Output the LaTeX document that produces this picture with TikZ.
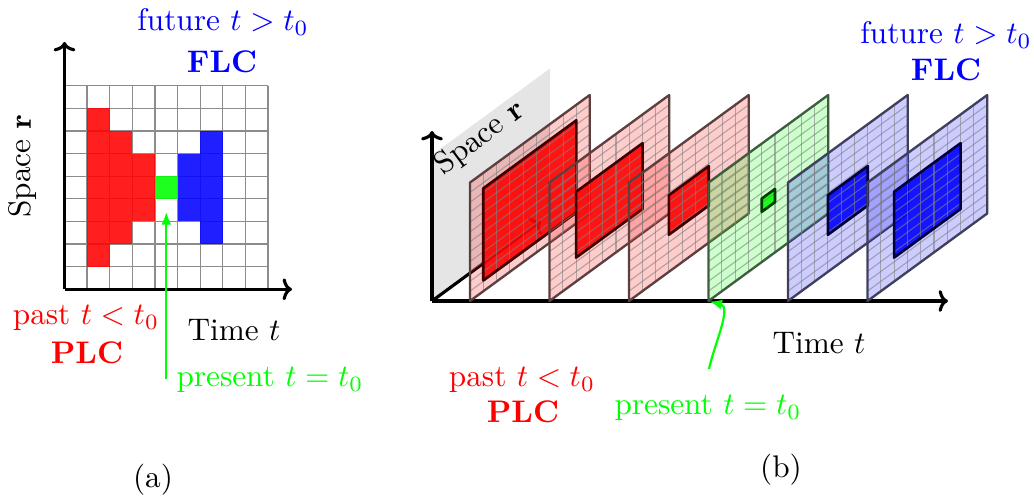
\documentclass[tikz,border=0pt]{standalone}
\usetikzlibrary{arrows.meta}
\begin{document}
\begin{tikzpicture}[x=0.32pt,y=-0.32pt,
  axis/.style={line width=1pt,-{To[length=3pt,width=7pt]}},
  lbl/.style={inner sep=0pt,font=\normalsize},
  gridline/.style={black!45,line width=0.4pt},
  pgrid/.style={black!50,line width=0.35pt,opacity=0.6},
  presarrow/.style={green,line width=0.7pt,-{Latex[length=4pt,width=3.2pt]}}]
\useasboundingbox (0,0) rectangle (1034,496);
% ================= panel (a) =================
\def\cs{22.62}
\foreach \i in {1,...,9}{\draw[gridline] ({64.5+\i*\cs},289.3) -- ({64.5+\i*\cs},85.7);}
\foreach \j in {1,...,9}{\draw[gridline] (64.5,{289.3-\j*\cs}) -- (268.1,{289.3-\j*\cs});}
\foreach \cc/\ylo/\yhi in {1/1/7,2/2/6,3/3/5}{
  \fill[red,fill opacity=0.88] ({64.5+\cc*\cs},{289.3-\ylo*\cs}) rectangle ({64.5+(\cc+1)*\cs},{289.3-(\yhi+1)*\cs});}
\foreach \cc/\ylo/\yhi in {5/3/5,6/2/6}{
  \fill[blue,fill opacity=0.88] ({64.5+\cc*\cs},{289.3-\ylo*\cs}) rectangle ({64.5+(\cc+1)*\cs},{289.3-(\yhi+1)*\cs});}
\fill[green,fill opacity=0.88] ({64.5+4*\cs},{289.3-4*\cs}) rectangle ({64.5+5*\cs},{289.3-5*\cs});
\coordinate (aO) at (64.5,289.3);
\coordinate (aY) at (64.5,42);
\coordinate (aX) at (292,289.3);
\draw[axis] (aO) -- (aY);
\draw[axis] (aO) -- (aX);
\coordinate (aPs) at (166.3,379);
\coordinate (aPe) at (166.3,212);
\draw[presarrow] (aPs) -- (aPe);
\node[lbl,blue] (afut) at (223,22) {future $t>t_0$};
\node[lbl,blue] (aflc) at (222,62) {\textbf{FLC}};
\node[lbl,rotate=90] (aspace) at (23,166) {Space $\mathbf{r}$};
\node[lbl,red] (apast) at (86,318) {past $t<t_0$};
\node[lbl,red] (aplc) at (87,353) {\textbf{PLC}};
\node[lbl] (atime) at (234,330) {Time $t$};
\node[lbl,green] (apres) at (270,380) {present $t=t_0$};
\node[lbl] (acap) at (153,480) {(a)};
% ================= panel (b) =================
\fill[black!10] (432,301) -- ++(118,-86.5) -- ++(0,-146) -- (432,155) -- cycle;
\coordinate (bO) at (432,301);
\coordinate (bY) at (432,131);
\coordinate (bX) at (948,301);
\coordinate (bD) at (541,221);
\draw[axis] (bO) -- (bD);
\draw[axis] (bO) -- (bY);
\draw[axis] (bO) -- (bX);
\foreach \k/\col/\a/\b in {0/red/1/8,1/red/2/7,2/red/3/6,3/green/4/5,4/blue/3/6,5/blue/2/7}{
  \begin{scope}[shift={({150.4pt+25.44pt*\k},-96.32pt)},x={(38.3pt,28.0pt)},y={(0pt,37.9pt)}]
    \fill[\col,fill opacity=0.2] (0,0) -- (1,0) -- (1,1) -- (0,1) -- cycle;
    \fill[\col,fill opacity=0.9] (\a/9,\a/9-0.02) -- (\b/9,\a/9-0.02) -- (\b/9,\b/9-0.02) -- (\a/9,\b/9-0.02) -- cycle;
    \foreach \i in {1,...,8}{\draw[pgrid] (\i/9,0) -- (\i/9,1);}
    \foreach \j in {1,...,11}{\draw[pgrid] (0,\j/12) -- (1,\j/12);}
    \draw[\col!25!black,line width=0.85pt,line join=round] (\a/9,\a/9-0.02) -- (\b/9,\a/9-0.02) -- (\b/9,\b/9-0.02) -- (\a/9,\b/9-0.02) -- cycle;
    \draw[\col!15!black!75,line width=0.75pt,line join=round] (0,0) -- (1,0) -- (1,1) -- (0,1) -- cycle;
  \end{scope}}
\coordinate (bPs) at (709,369);
\coordinate (bPe) at (709.5,301.5);
\draw[presarrow] (bPs) .. controls (714,345) and (732,307) .. (bPe);
\node[lbl,blue] (bfut) at (946,35) {future $t>t_0$};
\node[lbl,blue] (bflc) at (946,70) {\textbf{FLC}};
\node[lbl,rotate=36.3] (bspace) at (480,138) {Space $\mathbf{r}$};
\node[lbl] (btime) at (819,343) {Time $t$};
\node[lbl,red] (bpast) at (522,380) {past $t<t_0$};
\node[lbl,red] (bplc) at (523,412) {\textbf{PLC}};
\node[lbl,green] (bpres) at (708,408) {present $t=t_0$};
\node[lbl] (bcap) at (781,470) {(b)};
\end{tikzpicture}
\end{document}
